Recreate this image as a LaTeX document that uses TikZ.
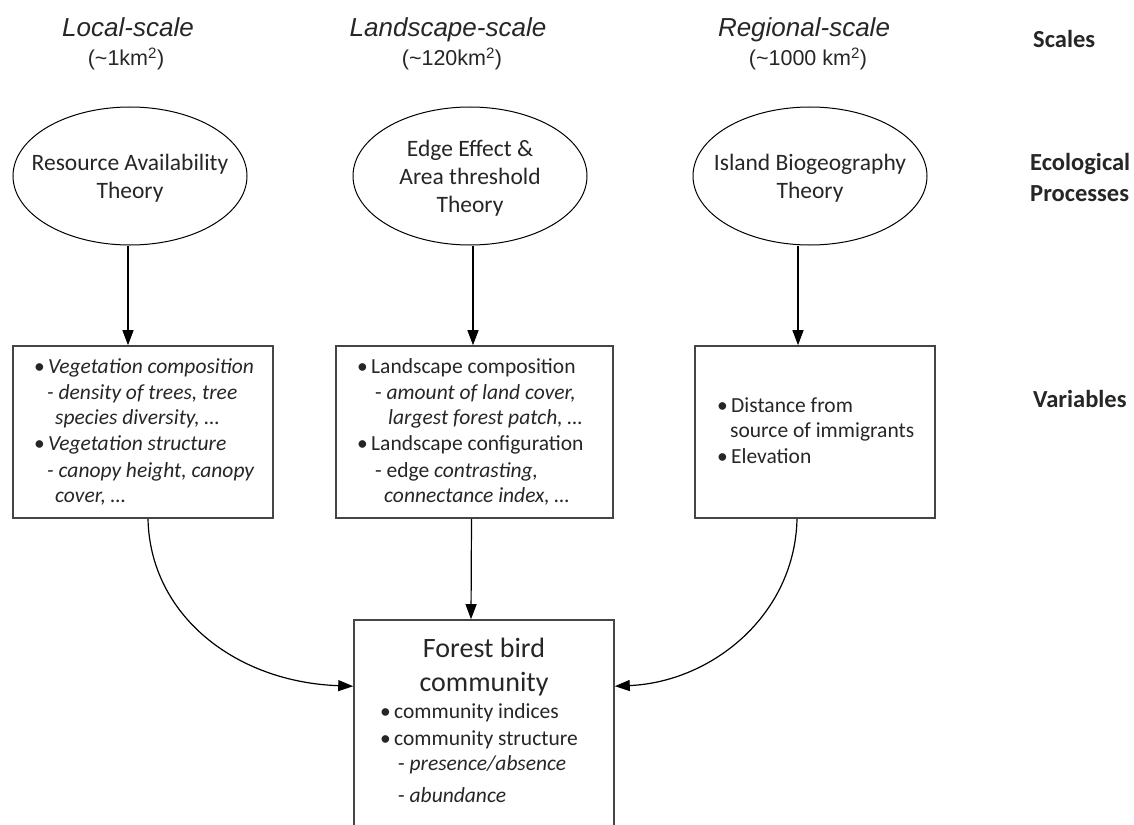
\documentclass[tikz,border=0pt]{standalone}
\usepackage{fontspec}
\setmainfont{Carlito}
\newfontfamily\arialf{Liberation Sans}
\usetikzlibrary{arrows.meta,shapes.geometric}
\definecolor{ink}{HTML}{262626}
\definecolor{boxline}{HTML}{454545}
\begin{document}
\begin{tikzpicture}[x=1pt,y=-1pt,
  ell/.style={draw=black, line width=1pt, ellipse, minimum width=234pt, minimum height=138pt, inner sep=0pt},
  vbox/.style={draw=boxline, line width=1.6pt, rectangle, inner sep=0pt},
  arr/.style={-{Triangle[length=15pt,width=11pt]}, line width=1.2pt, black},
  tx/.style={anchor=base west, inner sep=0pt, text=ink, font=\fontsize{21.5}{26}\selectfont},
  ttl/.style={anchor=base, inner sep=0pt, text=ink, font=\arialf\itshape\fontsize{26}{31}\selectfont},
  sub/.style={anchor=base, inner sep=0pt, text=ink, font=\arialf\fontsize{21.5}{25}\selectfont},
  lab/.style={anchor=base west, inner sep=0pt, text=ink, font=\bfseries\fontsize{24.5}{30}\selectfont},
  etx/.style={align=center, inner sep=0pt, text=ink, font=\fontsize{23.5}{28}\selectfont}
]
\useasboundingbox[fill=white] (0,0) rectangle (1134,824);
\newcommand{\bul}{\makebox[14pt][l]{•}}

% scale titles
\node[ttl] (t1) at (128,37) {Local-scale};
\node[sub] (s1) at (126,66) {(\textasciitilde1km\textsuperscript{2})};
\node[ttl] (t2) at (448,37) {Landscape-scale};
\node[sub] (s2) at (452,66) {(\textasciitilde120km\textsuperscript{2})};
\node[ttl] (t3) at (804,37) {Regional-scale};
\node[sub] (s3) at (808,66) {(\textasciitilde1000 km\textsuperscript{2})};

% right labels
\node[lab] (lscales) at (1033,48) {Scales};
\node[lab] (leco) at (1030,170) {Ecological};
\node[lab] (lproc) at (1030,201) {Processes};
\node[lab] (lvar) at (1033,407) {Variables};

% ellipses
\node[ell] (e1) at (130,176) {};
\node[etx] (e1t) at (130,178) {Resource Availability\\Theory};
\node[ell] (e2) at (470,176) {};
\node[etx] (e2t) at (470,178) {Edge Effect \&\\Area threshold\\Theory};
\node[ell] (e3) at (810,176) {};
\node[etx] (e3t) at (810,178) {Island Biogeography\\Theory};

% variable boxes
\node[vbox, minimum width=260pt, minimum height=172pt] (lbox) at (143,432) {};
\node[vbox, minimum width=277pt, minimum height=172pt] (mbox) at (474.5,432) {};
\node[vbox, minimum width=240pt, minimum height=172pt] (rbox) at (815,432) {};

% left box text
\node[tx] (l1) at (34,373) {\bul\textit{Vegetation composition}};
\node[tx] (l2) at (47,399) {\textit{- density of trees, tree}};
\node[tx] (l3) at (55,424) {\textit{species diversity, …}};
\node[tx] (l4) at (34,450) {\bul\textit{Vegetation structure}};
\node[tx] (l5) at (47,477) {\textit{- canopy height, canopy}};
\node[tx] (l6) at (55,502) {\textit{cover, …}};

% middle box text
\node[tx] (m1) at (357,373) {\bul Landscape composition};
\node[tx] (m2) at (375,399) {- \textit{amount of land cover,}};
\node[tx] (m3) at (388,424) {\textit{largest forest patch, …}};
\node[tx] (m4) at (357,450) {\bul Landscape configuration};
\node[tx] (m5) at (375,477) {- edge \textit{contrasting,}};
\node[tx] (m6) at (384,502) {\textit{connectance index, …}};

% right box text
\node[tx] (r1) at (717,412) {\bul Distance from};
\node[tx] (r2) at (730,437) {source of immigrants};
\node[tx] (r3) at (717,463) {\bul Elevation};

% forest bird box
\node[vbox, minimum width=260pt, minimum height=220pt] (fbox) at (484,730) {};
\node[anchor=base, inner sep=0pt, text=ink, font=\fontsize{28}{34}\selectfont] (f1) at (484,657) {Forest bird};
\node[anchor=base, inner sep=0pt, text=ink, font=\fontsize{28}{34}\selectfont] (f2) at (484,691) {community};
\node[tx] (f3) at (380,718) {\bul community indices};
\node[tx] (f4) at (380,745) {\bul community structure};
\node[tx] (f5) at (398,770) {- \textit{presence/absence}};
\node[tx] (f6) at (398,802) {- \textit{abundance}};

% arrows
\draw[arr] ([xshift=-2pt]e1.south) -- ([xshift=-15pt]lbox.north);
\draw[arr] ([xshift=3pt]e2.south) -- ([xshift=-1.5pt]mbox.north);
\draw[arr] ([xshift=-12pt]e3.south) -- ([xshift=-17pt]rbox.north);
\draw[arr] ([xshift=-3pt]mbox.south) -- ([xshift=-13pt]fbox.north);
\draw[arr] ([xshift=5pt]lbox.south) .. controls (150,615) and (235,682) .. ([yshift=-67pt]fbox.north west);
\draw[arr] ([xshift=-18pt]rbox.south) .. controls (795,615) and (712,682) .. ([yshift=-67pt]fbox.north east);
\end{tikzpicture}
\end{document}
